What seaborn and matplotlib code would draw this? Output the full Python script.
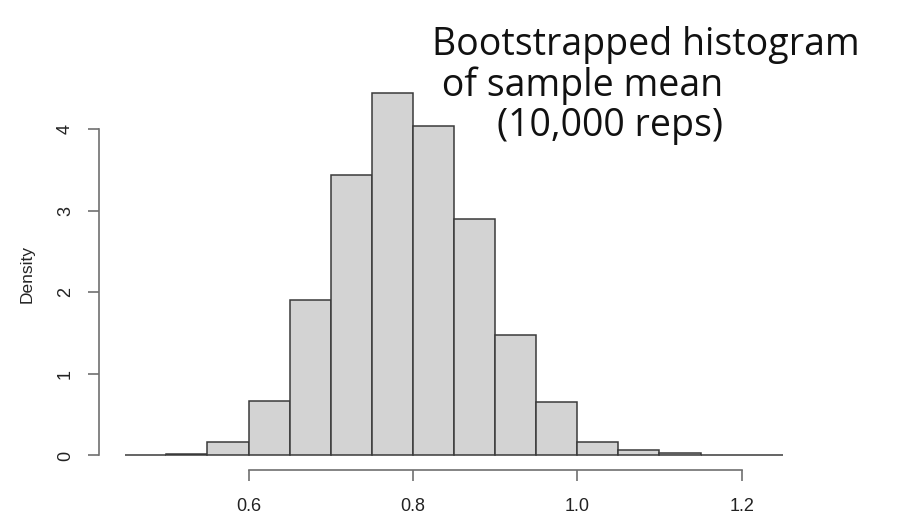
import numpy as np
import pandas as pd
import seaborn as sns
import matplotlib.pyplot as plt

# histogram of bootstrapped sample means (density scale), bin width 0.05
bin_edges = [0.45, 0.50, 0.55, 0.60, 0.65, 0.70, 0.75, 0.80, 0.85,
             0.90, 0.95, 1.00, 1.05, 1.10, 1.15, 1.20, 1.25]
density = [0.005, 0.02, 0.16, 0.67, 1.91, 3.44, 4.45, 4.04,
           2.90, 1.48, 0.65, 0.17, 0.07, 0.03, 0.01, 0.004]
x_ticks = [0.6, 0.8, 1.0, 1.2]
y_ticks = [0, 1, 2, 3, 4]
title_lines = ["Bootstrapped histogram", " of sample mean", "(10,000 reps)"]

mids = [(a + b) / 2 for a, b in zip(bin_edges[:-1], bin_edges[1:])]
df = pd.DataFrame({"mean": mids, "density": density})

sns.set_theme(style="ticks")
plt.rcParams['font.family'] = ['Liberation Sans', 'DejaVu Sans']

fig = plt.figure(figsize=(9.24, 5.15), dpi=100)
ax = fig.add_axes([99 / 924, 1 - 470 / 515, 710 / 924, 392 / 515])

sns.histplot(data=df, x="mean", weights="density", bins=bin_edges,
             stat="count", color="#d3d3d3", alpha=1, edgecolor="#3a3a3a",
             linewidth=1.1, ax=ax)

ax.set_xlim(0.418, 1.282)
ax.set_ylim(-0.178, 4.628)
ax.set_xticks(x_ticks)
ax.set_xticklabels(["0.6", "0.8", "1.0", "1.2"])
ax.set_yticks(y_ticks)
ax.set_yticklabels([str(t) for t in y_ticks], rotation=90, va="center")
ax.set_xlabel("")
ax.set_ylabel("Density", fontsize=12.5, labelpad=16)

for s in ["top", "right"]:
    ax.spines[s].set_visible(False)
ax.spines["left"].set_bounds(0, 4)
ax.spines["bottom"].set_bounds(0.6, 1.2)
for s in ["left", "bottom"]:
    ax.spines[s].set_color("#707070")
    ax.spines[s].set_linewidth(1.2)
ax.tick_params(axis="both", direction="out", length=8, width=1.2,
               color="#707070", labelsize=13, labelcolor="#222222", pad=12)
ax.tick_params(axis="y", pad=10)

title_font = ['Open Sans', 'DejaVu Sans']
kw = dict(fontsize=27, family=title_font, va="baseline", ha="left",
          color="#111111", fontweight="normal")
fig.text(432 / 924, 1 - 55 / 515, title_lines[0], **kw)
fig.text(432 / 924, 1 - 96 / 515, title_lines[1], **kw)
fig.text(497 / 924, 1 - 136 / 515, title_lines[2], **kw)

fig.savefig("out.png", dpi=100)
